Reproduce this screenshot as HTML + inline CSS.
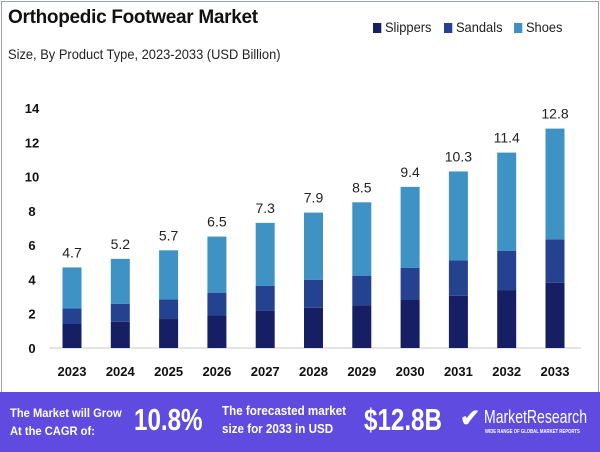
<!DOCTYPE html>
<html><head><meta charset="utf-8"><style>
body{margin:0;width:600px;height:452px;overflow:hidden;background:#fff;font-family:"Liberation Sans",sans-serif}
#frame{position:absolute;left:1px;top:1px;width:596px;height:400px;border:1px solid #9aa0b0;border-bottom:none}
.title{position:absolute;left:8px;top:7px;font-size:19px;font-weight:bold;color:#111;letter-spacing:-0.3px}
.sub{position:absolute;left:8px;top:46px;font-size:14px;color:#222;transform:scaleX(0.92);transform-origin:left}
.leg{position:absolute;top:19px;font-size:14px;color:#222;transform:scaleX(0.92);transform-origin:left}
.leg span{display:inline-block;width:9px;height:10px;margin-right:4px;vertical-align:-1px}
#banner{position:absolute;left:0;top:392px;width:600px;height:60px;background:#5f4be0;color:#fff;font-weight:bold}
#banner div{position:absolute;transform-origin:left;white-space:nowrap}
</style></head><body>
<div id="frame"></div>
<div class="title">Orthopedic Footwear Market</div>
<div class="sub">Size, By Product Type, 2023-2033 (USD Billion)</div>
<div class="leg" style="left:373px"><span style="background:#161f63"></span>Slippers</div>
<div class="leg" style="left:444px"><span style="background:#24428f"></span>Sandals</div>
<div class="leg" style="left:514px"><span style="background:#3e93c4"></span>Shoes</div>
<svg id="chart" width="600" height="392" style="position:absolute;left:0;top:0"></svg>
<div id="banner">
<div style="left:10px;top:12px;font-size:12px;line-height:18px;transform:scaleX(0.93)">The Market will Grow<br>At the CAGR of:</div>
<div style="left:134px;top:10px;font-size:31px;transform:scaleX(0.78)">10.8%</div>
<div style="left:222px;top:10px;font-size:12.5px;line-height:18px;transform:scaleX(0.93)">The forecasted market<br>size for 2033 in USD</div>
<div style="left:364px;top:10px;font-size:31px;transform:scaleX(0.78)">$12.8B</div>
<div style="left:460px;top:12px;font-size:24px">✔</div>
<div style="left:484px;top:15px;font-size:18px;font-weight:normal;transform:scaleX(0.78)">MarketResearch</div>
<div style="left:485px;top:37px;font-size:5px;transform:scaleX(0.85)">WIDE RANGE OF GLOBAL MARKET REPORTS</div>
</div>
<script>
const years=["2023","2024","2025","2026","2027","2028","2029","2030","2031","2032","2033"];
const slippers=[1.4,1.53,1.69,1.9,2.18,2.35,2.5,2.8,3.05,3.38,3.81];
const sandals=[0.91,1.04,1.15,1.33,1.44,1.62,1.72,1.87,2.07,2.28,2.53];
const totals=[4.7,5.2,5.7,6.5,7.3,7.9,8.5,9.4,10.3,11.4,12.8];
const totalLabels=["4.7","5.2","5.7","6.5","7.3","7.9","8.5","9.4","10.3","11.4","12.8"];
const yTicks=[0,2,4,6,8,10,12,14];
const svg=document.getElementById('chart');
const NS="http://www.w3.org/2000/svg";
const y0=348,pxPer=17.14,x0=72,step=48.3,bw=19;
const Y=v=>y0-v*pxPer, X=i=>x0+i*step;
function mk(t,a){const e=document.createElementNS(NS,t);for(const k in a)e.setAttribute(k,a[k]);svg.appendChild(e);return e;}
const ax=mk('line',{x1:49,x2:581,y1:y0,y2:y0,stroke:'#c8c8c8','stroke-width':1});


yTicks.forEach(t=>{const e=mk('text',{x:32,y:Y(t)+5,'text-anchor':'middle','font-size':13,'font-weight':'bold',fill:'#111'});e.textContent=t;

});
years.forEach((yr,i)=>{
const shoes=totals[i]-slippers[i]-sandals[i];
const segs=[[0,slippers[i],'#161f63','slippers'],[slippers[i],sandals[i],'#24428f','sandals'],[slippers[i]+sandals[i],shoes,'#3e93c4','shoes']];
segs.forEach(s=>{const r=mk('rect',{x:X(i)-bw/2,y:Y(s[0]+s[1]),width:bw,height:s[1]*pxPer,fill:s[2]});

});
const v=mk('text',{x:X(i),y:Y(totals[i])-10,'text-anchor':'middle','font-size':14,fill:'#222'});v.textContent=totalLabels[i];


const l=mk('text',{x:X(i),y:376,'text-anchor':'middle','font-size':13,'font-weight':'bold',fill:'#111'});l.textContent=yr;


});
</script>
</body></html>
